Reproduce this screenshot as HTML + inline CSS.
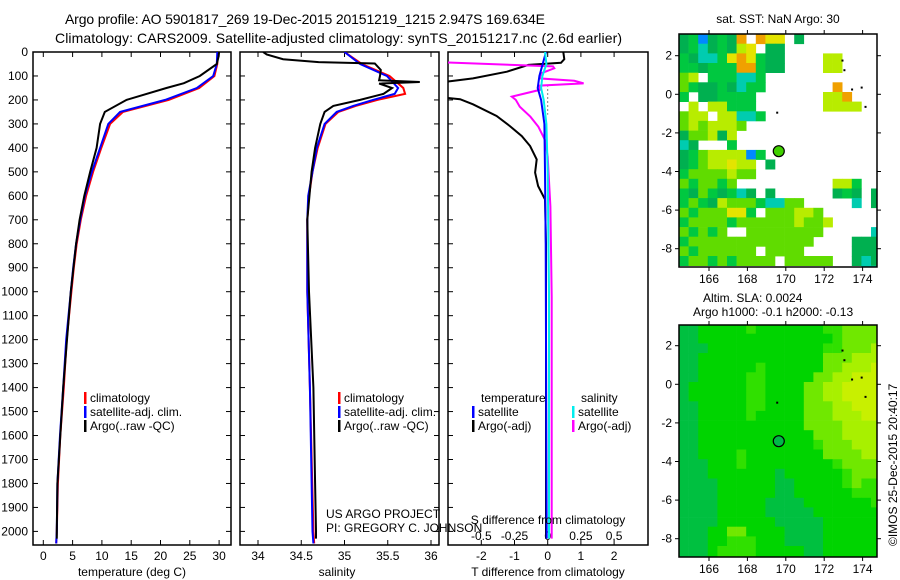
<!DOCTYPE html>
<html><head><meta charset="utf-8"><style>
html,body{margin:0;padding:0;background:#fff;}
svg{display:block;font-family:"Liberation Sans",sans-serif;}
</style></head><body>
<svg id="fig" width="900" height="580" viewBox="0 0 900 580">
<defs>
<clipPath id="c1"><rect x="33" y="52" width="198" height="493"/></clipPath>
<clipPath id="c2"><rect x="240" y="52" width="199" height="493"/></clipPath>
<clipPath id="c3"><rect x="448" y="52" width="192" height="493"/></clipPath>
<clipPath id="m1"><rect x="679" y="34" width="198" height="233"/></clipPath>
<clipPath id="m2"><rect x="679" y="325" width="198" height="232"/></clipPath>
</defs>
<text x="65" y="24" font-size="14" textLength="480">Argo profile: AO 5901817_269 19-Dec-2015 20151219_1215 2.947S 169.634E</text>
<text x="55" y="43" font-size="14" textLength="567">Climatology: CARS2009. Satellite-adjusted climatology: synTS_20151217.nc (2.6d earlier)</text>
<g id="g"></g>
</svg>
<script>
// depth levels (m)
const tDepth=[0,50,100,150,200,250,300,400,500,600,700,800,900,1000,1200,1400,1600,1800,2000,2050];
const tClim=[29.8,29.7,29.2,26.6,21.4,13.6,11.4,9.9,8.5,7.3,6.4,5.7,5.2,4.8,4.0,3.5,2.9,2.5,2.3,2.2];
const tSat=[29.7,29.6,29.0,26.2,20.8,13.1,11.1,9.7,8.3,7.1,6.3,5.6,5.1,4.7,3.9,3.4,2.85,2.4,2.3,2.2];
const argoDepth=[0,20,50,100,130,150,200,250,300,400,500,600,700,800,1000,1400,1800,2000,2030];
const tArgo=[30.0,29.9,29.6,26.7,24.0,21.0,14.2,10.5,9.7,9.1,8.0,7.0,6.2,5.6,4.7,3.4,2.4,2.3,2.3];
const sDepth=[0,50,100,150,175,200,225,250,300,400,500,600,700,1000,1400,2000,2050];
const sClim=[35.0,35.2,35.52,35.68,35.70,35.38,35.13,34.93,34.78,34.69,34.63,34.59,34.57,34.57,34.6,34.64,34.65];
const sSat=[35.0,35.18,35.49,35.62,35.58,35.33,35.10,34.91,34.77,34.68,34.63,34.58,34.57,34.57,34.6,34.63,34.64];
const sArgoDepth=[0,10,30,42,48,75,100,118,125,132,150,175,200,225,250,300,400,500,700,1000,1400,1800,2000,2030];
const sArgo=[34.06,34.1,34.29,34.7,35.35,35.42,35.41,35.40,35.87,35.40,35.55,35.45,35.18,34.87,34.77,34.72,34.66,34.62,34.57,34.59,34.64,34.66,34.67,34.67];
const dTDepth=[0,30,45,54,82,110,122,135,185,197,218,267,309,351,392,448,503,559,615,800,1200,2030];
const dTArgo=[0.47,0.5,0.4,-0.58,-1.23,-2.25,-2.94,-3.5,-3.5,-2.64,-2.25,-1.54,-1.14,-0.78,-0.53,-0.33,-0.38,-0.29,-0.08,-0.05,-0.05,-0.05];
const dTSatDepth=[0,50,100,150,200,300,500,800,1200,2030];
const dTSat=[-0.05,-0.15,-0.25,-0.3,-0.2,-0.1,-0.08,-0.06,-0.05,-0.03];
const dSDepth=[40,44,60,68,89,110,120,131,140,158,186,200,228,270,312,367,437,645,1021,1500,2030];
const dSArgo=[-0.75,-0.75,0.04,0.05,-0.05,-0.06,0.2,0.27,-0.06,-0.06,-0.27,-0.24,-0.21,-0.13,-0.07,-0.02,0.0,0.02,0.03,0.03,0.03];
const dSSatDepth=[0,50,100,150,200,300,500,1000,1500,2030];
const dSSat=[-0.02,-0.01,-0.04,-0.05,-0.03,-0.01,0.0,0.01,0.01,0.01];
const depthTicks=[0,100,200,300,400,500,600,700,800,900,1000,1100,1200,1300,1400,1500,1600,1700,1800,1900,2000];
const tTicks=[0,5,10,15,20,25,30];
const sTicks=[34,34.5,35,35.5,36];
const dTTicks=[-2,-1,0,1,2];
const dSTicks=[-0.5,-0.25,0,0.25,0.5];
const lonTicks=[166,168,170,172,174];
const latTicks=[2,0,-2,-4,-6,-8];
const sstGrid=[
"GgbGgGo.oYY.G........",
"GgcGgGyY.GG..........",
"gGccgYoYgGG....yy....",
"ggGgggoogGG....yy....",
"ly.gggccg............",
"lgGGgGcgg.......o....",
"g.GGgggg.......yyo...",
".y.yyggg.......yyyy..",
"lyy.yyccg............",
"lylyyyl..............",
"GllyGy...............",
"cG...g...............",
"Gglyyyybg............",
"GglyyYyy.G...........",
"gllllyll.............",
"lgllgl..........yyg..",
"gGlgGgcG.G......GgG.G",
"glgGylllgccll.....c.G",
"lglllYYg.lllyyl......",
"gllllgllllllylly.....",
"lglgl..llllllll.....c",
"glllllllllllll....GGG",
"lgllllll.llll.....GGG",
"gllglgllll.lllll..GcG",
"...................cc"];
const sstCols={G:"#00b050",g:"#00c840",l:"#60dc00",y:"#b8ec00",Y:"#e4e400",o:"#f0a000",c:"#00ccb0",b:"#0088ff"};
const slaGrid=[
"GGggggglgggggggllLLLL","GGgggggggggggggglLLLL","GGGggggggggggggllLLLy","GGgggggggggggggLLLyyy",
"GGgggggglggggggLLyyyY","GGgggggllgggggLLyyYYY","GggggggllggggLLyyYYYY","GggggggllggggLLyyYYYY",
"GGgggggllggggLLLyyYYY","GGggggglgggggLLLyyyYY","GGgggggggggggLLLLyyyy","GGggggggggggggLLLyyyy",
"GGgggggggggggglLLLyyy","GGgggglggggggggLLLLyy","GGGggglggggggggglLLLL","GGGgggggggGgggggglLLL",
"GGGGggggggGGggggglLll","GGGGggggggGGgggggglll","GGGGgggggGGGGgggggggl","GGGGgggggGGGGGggggggg",
"GGGGggggggGGGGGgggggg","GGGggLLggggGGGGgggggg","GGGgglllgggGGGGgggggg","GGGgllllgggggGGgggggg","GGGgllllgggggGGgggggg"];
const slaCols={G:"#00c040",g:"#00d400",l:"#30e000",L:"#70e800",y:"#a8f000",Y:"#c8f000"};
const floatLon=169.634, floatLat=-2.947;

const NS="http://www.w3.org/2000/svg";
const G=document.getElementById('g');
function el(t,a,p){const e=document.createElementNS(NS,t);for(const k in a)e.setAttribute(k,a[k]);(p||G).appendChild(e);return e;}
function txt(x,y,s,a,p){const e=el('text',Object.assign({x:x,y:y,'font-size':12},a||{}),p);e.textContent=s;return e;}
const yD=d=>52+d*0.2397;
const xT=t=>43.3+t*5.86;
const xS=s=>258+(s-34)*86.5;
const xdT=t=>547.7+t*33.2;
const xdS=s=>547.7+s*132.8;

function panel(x0,x1,name,leftLabels){
  const f=el('rect',{x:x0,y:52,width:x1-x0,height:493,fill:'none',stroke:'#000','stroke-width':1.5});
  
  
  depthTicks.forEach(d=>{
    el('line',{x1:x0,x2:x0+5,y1:yD(d),y2:yD(d),stroke:'#000'});
    el('line',{x1:x1-5,x2:x1,y1:yD(d),y2:yD(d),stroke:'#000'});
    if(leftLabels){const t=txt(28,yD(d)+4,String(d),{'text-anchor':'end'});
      
      }
  });
}
function xticks(vals,sc,y,fmt,name){
  vals.forEach(v=>{const x=sc(v);
    el('line',{x1:x,x2:x,y1:545,y2:540,stroke:'#000'});
    el('line',{x1:x,x2:x,y1:52,y2:57,stroke:'#000'});
    const t=txt(x,y,fmt?fmt(v):String(v),{'text-anchor':'middle'});
    
    
  });
}
function line(ds,vs,sc,color,clip,name,w){
  const pts=ds.map((d,i)=>sc(vs[i]).toFixed(1)+','+yD(d).toFixed(1)).join(' ');
  const p=el('polyline',{points:pts,fill:'none',stroke:color,'stroke-width':w||2,'clip-path':'url(#'+clip+')'});
  
  
}
function legend(x,y,color,label,name){
  el('rect',{x:x,y:y-6,width:2.5,height:12,fill:color});
  const t=txt(x+6,y+4,label);
  
  
}
// panel 1
panel(33,231,'temperature-panel',true);
xticks(tTicks,xT,560,null,'temperature-tick-label');
line(tDepth,tClim,xT,'#f00','c1','temperature-climatology-line');
line(tDepth,tSat,xT,'#00f','c1','temperature-satellite-line');
line(argoDepth,tArgo,xT,'#000','c1','temperature-argo-line');
let a=txt(132,576,'temperature (deg C)',{'text-anchor':'middle'});


legend(84,398,'#f00','climatology','legend-climatology');
legend(84,412,'#00f','satellite-adj. clim.','legend-satellite');
legend(84,426,'#000','Argo(..raw -QC)','legend-argo');
// panel 2
panel(240,439,'salinity-panel',false);
xticks(sTicks,xS,560,null,'salinity-tick-label');
line(sDepth,sClim,xS,'#f00','c2','salinity-climatology-line');
line(sDepth,sSat,xS,'#00f','c2','salinity-satellite-line');
line(sArgoDepth,sArgo,xS,'#000','c2','salinity-argo-line');
a=txt(337,576,'salinity',{'text-anchor':'middle'});


legend(338,398,'#f00','climatology','legend-climatology-2');
legend(338,412,'#00f','satellite-adj. clim.','legend-satellite-2');
legend(338,426,'#000','Argo(..raw -QC)','legend-argo-2');
a=txt(326,518,'US ARGO PROJECT');
a=txt(326,532,'PI: GREGORY C. JOHNSON');
// panel 3
el('rect',{x:448,y:52,width:200,height:493,fill:'none',stroke:'#000','stroke-width':1.5});
depthTicks.forEach(d=>el('line',{x1:448,x2:453,y1:yD(d),y2:yD(d),stroke:'#000'}));
xticks(dTTicks,xdT,560,null,'tdiff-tick-label');
dSTicks.forEach(v=>{const t=txt(xdS(v),540,String(v).replace('0.','.').replace('-.','-0.').replace(/^\.25/,'0.25').replace(/^\.5/,'0.5'),{'text-anchor':'middle'});
  t.textContent=String(v);
  
  });
el('line',{x1:xdT(0),x2:xdT(0),y1:yD(140),y2:yD(260),stroke:'#000','stroke-dasharray':'1,3'});
line(dTDepth,dTArgo,xdT,'#000','c3','tdiff-argo-line');
line(dSDepth,dSArgo,xdS,'#f0f','c3','sdiff-argo-line');
line(dTSatDepth,dTSat,xdT,'#00f','c3','tdiff-satellite-line');
line(dSSatDepth,dSSat,xdS,'#0ee','c3','sdiff-satellite-line');
a=txt(548,524,'S difference from climatology',{'text-anchor':'middle'});
a=txt(548,576,'T difference from climatology',{'text-anchor':'middle'});
a=txt(481,402,'temperature');
a=txt(581,402,'salinity');
legend(472,412,'#00f','satellite','legend-t-satellite');
legend(472,426,'#000','Argo(-adj)','legend-t-argo');
legend(572,412,'#0ee','satellite','legend-s-satellite');
legend(572,426,'#f0f','Argo(-adj)','legend-s-argo');

// maps
function map(top,bottom,lat2y,grid,cols,name,clip,fillC){
  const lon0=164.44, lat0=3.12, sx=19.2, sy=19.3;
  const lx=l=>709+(l-166)*sx;
  const ly=l=>lat2y+(2-l)*sy;
  const g=el('g',{'clip-path':'url(#'+clip+')'});
  
  
  grid.forEach((row,j)=>{for(let i=0;i<row.length;i++){const c=row[i];if(c==='.')continue;
    const lo=lon0+i*0.5, la=lat0-j*0.5;
    el('rect',{x:lx(lo).toFixed(1),y:ly(la).toFixed(1),width:(0.5*sx+0.3).toFixed(1),height:(0.5*sy+0.3).toFixed(1),fill:cols[c]},g);}});
  const f=el('rect',{x:679,y:top,width:198,height:bottom-top,fill:'none',stroke:'#000','stroke-width':1.5});
  
  
  lonTicks.forEach(v=>{const x=lx(v);
    el('line',{x1:x,x2:x,y1:bottom,y2:bottom+4,stroke:'#000'});
    el('line',{x1:x,x2:x,y1:top,y2:top-4,stroke:'#000'});
    const t=txt(x,bottom+16,String(v),{'text-anchor':'middle'});
    
    });
  latTicks.forEach(v=>{const y=ly(v);
    el('line',{x1:679,x2:675,y1:y,y2:y,stroke:'#000'});
    el('line',{x1:877,x2:881,y1:y,y2:y,stroke:'#000'});
    const t=txt(672,y+4,String(v),{'text-anchor':'end'});
    
    });
  const c=el('circle',{cx:lx(floatLon),cy:ly(floatLat),r:5.5,fill:fillC,stroke:'#000','stroke-width':1.2});
  
  
  [[172.9,1.8],[173,1.3],[173.4,0.3],[174.1,-0.6],[169.5,-0.9],[173.9,0.4]].forEach(p=>el('rect',{x:lx(p[0]),y:ly(p[1]),width:2,height:2,fill:'#000'}));
}
map(34,267,55.7,sstGrid,sstCols,'sst-map','m1','#40d000');
map(325,557,345.7,slaGrid,slaCols,'sla-map','m2','#00b848');
a=txt(778,23,'sat. SST: NaN Argo: 30',{'text-anchor':'middle'});
a=txt(703,302,'Altim. SLA: 0.0024');
a=txt(693,316,'Argo h1000: -0.1 h2000: -0.13');
a=txt(0,0,'©IMOS 25-Dec-2015 20:40:17',{transform:'translate(897,546) rotate(-90)'});
</script>
</body></html>
